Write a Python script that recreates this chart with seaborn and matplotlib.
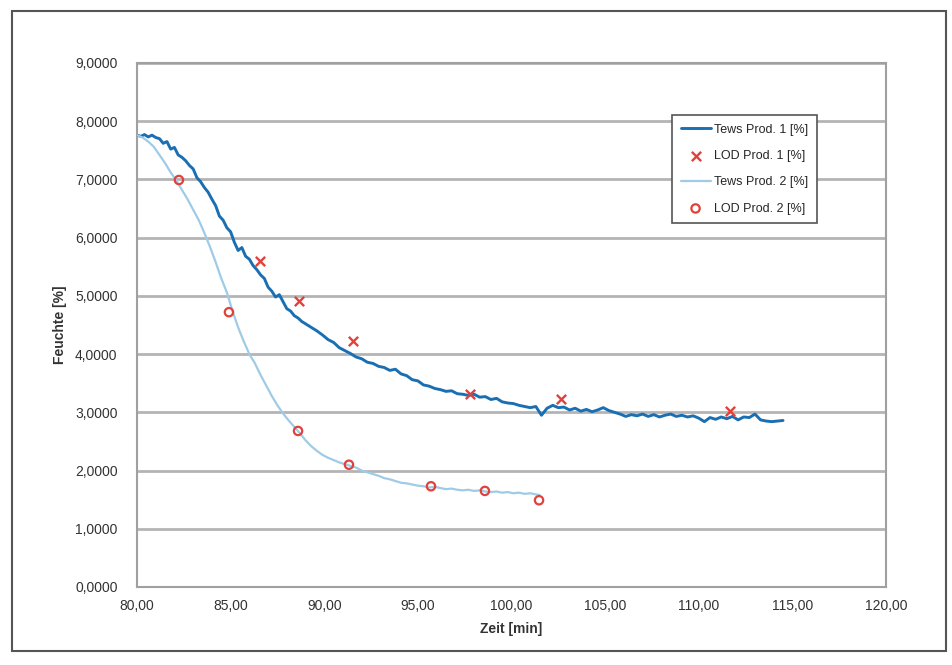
import matplotlib
matplotlib.use("Agg")
import matplotlib.pyplot as plt
import matplotlib.ticker as mticker
from matplotlib.patches import Rectangle
import pandas as pd
import seaborn as sns

# Tews Prod. 1 - Feuchte ueber Zeit
tews1_t = [80.0, 80.2, 80.4, 80.6, 80.8, 81.0, 81.2, 81.4, 81.6, 81.8,
           82.0, 82.2, 82.4, 82.6, 82.8, 83.0, 83.2, 83.4, 83.6, 83.8,
           84.0, 84.2, 84.4, 84.6, 84.8, 85.0, 85.2, 85.4, 85.6, 85.8,
           86.0, 86.2, 86.4, 86.6, 86.8, 87.0, 87.2, 87.4, 87.6, 87.8,
           88.0, 88.2, 88.4, 88.6, 88.8, 89.0, 89.3, 89.6, 89.9, 90.2,
           90.5, 90.8, 91.1, 91.4, 91.7, 92.0, 92.3, 92.6, 92.9, 93.2,
           93.5, 93.8, 94.1, 94.4, 94.7, 95.0, 95.3, 95.6, 95.9, 96.2,
           96.5, 96.8, 97.1, 97.4, 97.7, 98.0, 98.3, 98.6, 98.9, 99.2,
           99.5, 99.8, 100.1, 100.4, 100.7, 101.0, 101.3, 101.6, 101.9, 102.2,
           102.5, 102.8, 103.1, 103.4, 103.7, 104.0, 104.3, 104.6, 104.9, 105.2,
           105.5, 105.8, 106.1, 106.4, 106.7, 107.0, 107.3, 107.6, 107.9, 108.2,
           108.5, 108.8, 109.1, 109.4, 109.7, 110.0, 110.3, 110.6, 110.9, 111.2,
           111.5, 111.8, 112.1, 112.4, 112.7, 113.0, 113.3, 113.6, 113.9, 114.2,
           114.5]
tews1_y = [7.76, 7.74, 7.77, 7.73, 7.76, 7.72, 7.70, 7.62, 7.65, 7.52,
           7.55, 7.42, 7.38, 7.32, 7.24, 7.18, 7.03, 6.96, 6.86, 6.78,
           6.66, 6.55, 6.37, 6.30, 6.17, 6.10, 5.92, 5.78, 5.83, 5.68,
           5.63, 5.52, 5.45, 5.36, 5.30, 5.15, 5.08, 4.98, 5.02, 4.90,
           4.78, 4.74, 4.66, 4.62, 4.56, 4.52, 4.46, 4.40, 4.33, 4.25,
           4.20, 4.11, 4.06, 4.01, 3.95, 3.92, 3.86, 3.84, 3.79, 3.77,
           3.72, 3.74, 3.66, 3.63, 3.56, 3.54, 3.47, 3.45, 3.41, 3.39,
           3.36, 3.37, 3.32, 3.31, 3.29, 3.31, 3.26, 3.27, 3.22, 3.24,
           3.18, 3.16, 3.15, 3.12, 3.10, 3.08, 3.10, 2.95, 3.07, 3.12,
           3.08, 3.09, 3.04, 3.07, 3.02, 3.05, 3.01, 3.04, 3.08, 3.03,
           3.00, 2.97, 2.93, 2.96, 2.94, 2.97, 2.93, 2.96, 2.92, 2.95,
           2.97, 2.93, 2.95, 2.92, 2.94, 2.90, 2.84, 2.91, 2.88, 2.92,
           2.89, 2.93, 2.87, 2.92, 2.91, 2.97, 2.87, 2.85, 2.84, 2.85,
           2.86]

# Tews Prod. 2
tews2_t = [80.0, 80.3, 80.6, 80.9, 81.2, 81.5, 81.8, 82.1, 82.4, 82.7,
           83.0, 83.3, 83.6, 83.9, 84.2, 84.5, 84.8, 85.1, 85.4, 85.7,
           86.0, 86.3, 86.6, 86.9, 87.2, 87.5, 87.8, 88.1, 88.4, 88.7,
           89.0, 89.3, 89.6, 89.9, 90.2, 90.5, 90.8, 91.1, 91.4, 91.7,
           92.0, 92.3, 92.6, 92.9, 93.2, 93.5, 93.8, 94.1, 94.4, 94.7,
           95.0, 95.3, 95.6, 95.9, 96.2, 96.5, 96.8, 97.1, 97.4, 97.7,
           98.0, 98.3, 98.6, 98.9, 99.2, 99.5, 99.8, 100.1, 100.4, 100.7,
           101.0, 101.3, 101.5]
tews2_y = [7.76, 7.72, 7.65, 7.56, 7.42, 7.28, 7.12, 6.98, 6.82, 6.66,
           6.48, 6.30, 6.08, 5.84, 5.58, 5.30, 5.06, 4.74, 4.46, 4.22,
           4.00, 3.84, 3.64, 3.46, 3.28, 3.12, 2.98, 2.86, 2.75, 2.64,
           2.52, 2.42, 2.34, 2.27, 2.22, 2.18, 2.14, 2.11, 2.08, 2.05,
           2.00, 1.97, 1.94, 1.91, 1.87, 1.85, 1.82, 1.79, 1.78, 1.76,
           1.74, 1.73, 1.71, 1.72, 1.70, 1.68, 1.69, 1.67, 1.66, 1.67,
           1.65, 1.66, 1.64, 1.63, 1.64, 1.62, 1.63, 1.61, 1.62, 1.60,
           1.61, 1.59, 1.58]

# LOD Messpunkte
lod1_t = [86.57, 88.65, 91.54, 97.78, 102.64, 111.67]
lod1_y = [5.60, 4.91, 4.23, 3.31, 3.23, 3.02]
lod2_t = [82.24, 84.91, 88.60, 91.32, 95.70, 98.58, 101.47]
lod2_y = [6.99, 4.72, 2.68, 2.10, 1.73, 1.65, 1.49]

df1 = pd.DataFrame({'t': tews1_t, 'y': tews1_y})
df2 = pd.DataFrame({'t': tews2_t, 'y': tews2_y})
lod1 = pd.DataFrame({'t': lod1_t, 'y': lod1_y})
lod2 = pd.DataFrame({'t': lod2_t, 'y': lod2_y})

sns.set_style("white")
plt.rcParams['font.family'] = ['Liberation Sans', 'DejaVu Sans']

fig = plt.figure(figsize=(9.52, 6.65), dpi=100)
ax = fig.add_axes([0.1439, 0.1173, 0.7868, 0.788])

dark = '#1a6fb3'
light = '#9fcbe6'
red = '#e2413b'

sns.lineplot(data=df1, x='t', y='y', ax=ax, color=dark, lw=2.1, sort=False,
             estimator=None, label='Tews Prod. 1 [%]', zorder=3)
sns.scatterplot(data=lod1, x='t', y='y', ax=ax, marker='x', color=red, s=45,
                linewidth=1.7, label='LOD Prod. 1 [%]', zorder=5)
sns.lineplot(data=df2, x='t', y='y', ax=ax, color=light, lw=1.6, sort=False,
             estimator=None, label='Tews Prod. 2 [%]', zorder=3)
sns.scatterplot(data=lod2, x='t', y='y', ax=ax, marker='o', facecolor='none',
                edgecolor=red, s=36, linewidth=1.6, label='LOD Prod. 2 [%]', zorder=5)

ax.set_xlim(80, 120)
ax.set_ylim(0, 9)
ax.xaxis.set_major_locator(mticker.MultipleLocator(5))
ax.yaxis.set_major_locator(mticker.MultipleLocator(1))
ax.xaxis.set_major_formatter(mticker.FuncFormatter(lambda v, p: f"{v:.2f}".replace('.', ',')))
ax.yaxis.set_major_formatter(mticker.FuncFormatter(lambda v, p: f"{v:.4f}".replace('.', ',')))

ax.yaxis.grid(True, color='#b4b4b4', lw=2.0)
ax.xaxis.grid(False)
ax.set_axisbelow(True)
for s in ax.spines.values():
    s.set_color('#a0a0a0')
    s.set_linewidth(1.5)
ax.tick_params(axis='both', which='major', direction='out', length=4, width=1,
               color='#a0a0a0', labelsize=10, labelcolor='#333333')
ax.tick_params(axis='y', pad=10)
ax.tick_params(axis='x', pad=5)

ax.set_xlabel('Zeit [min]', fontsize=10, fontweight='bold', color='#333333', labelpad=6)
ax.set_ylabel('Feuchte [%]', fontsize=10, fontweight='bold', color='#333333', labelpad=6)

leg = ax.legend(loc='upper left', bbox_to_anchor=(0.714, 0.901), borderaxespad=0,
                fontsize=9, frameon=True, fancybox=False, handlelength=2.4,
                borderpad=0.7, labelspacing=1.15, handletextpad=0.3)
leg.get_frame().set_edgecolor('#555555')
leg.get_frame().set_linewidth(1.2)
leg.get_frame().set_alpha(1)

# aeusserer Rahmen
fig.patches.append(Rectangle((12 / 952, 1 - 651 / 665), 934 / 952, 640 / 665,
                             transform=fig.transFigure, fill=False,
                             edgecolor='#555555', lw=1.5))

fig.savefig('out.png', dpi=100)
